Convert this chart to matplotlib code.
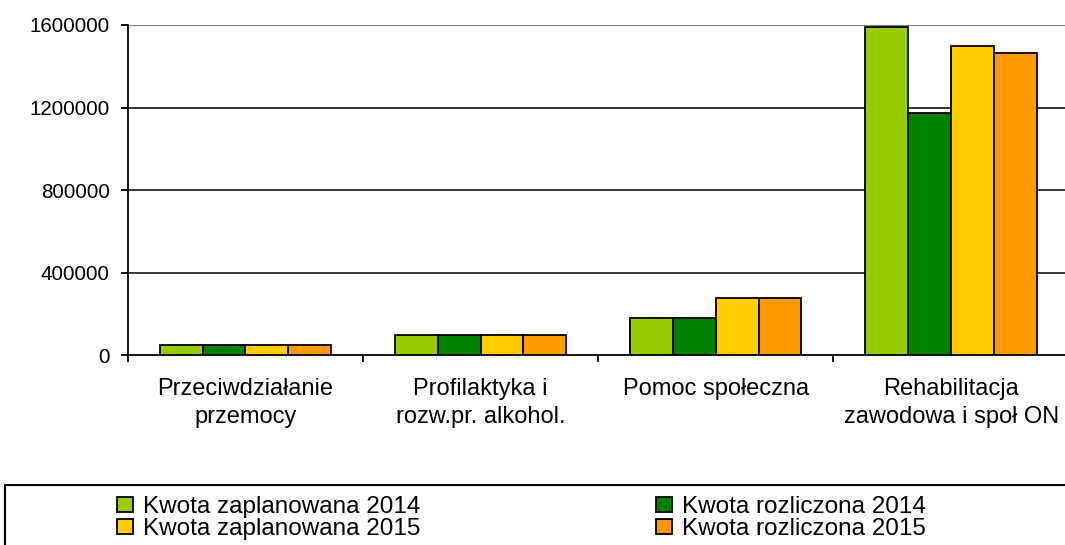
import numpy as np
import matplotlib
matplotlib.use('Agg')
import matplotlib.pyplot as plt
from matplotlib.patches import Rectangle, Patch

plt.rcParams['font.family'] = ['Liberation Sans', 'DejaVu Sans']

categories = ['Przeciwdziałanie\nprzemocy', 'Profilaktyka i\nrozw.pr. alkohol.',
              'Pomoc społeczna', 'Rehabilitacja\nzawodowa i społ ON']
series_names = ['Kwota zaplanowana 2014', 'Kwota rozliczona 2014',
                'Kwota zaplanowana 2015', 'Kwota rozliczona 2015']
zaplanowana_2014 = [50000, 100000, 180000, 1590000]
rozliczona_2014 = [50000, 100000, 180000, 1173000]
zaplanowana_2015 = [50000, 100000, 279000, 1500000]
rozliczona_2015 = [50000, 100000, 276000, 1466000]
colors = ['#99CC00', '#008000', '#FFCC00', '#FF9900']
yticks = [0, 400000, 800000, 1200000, 1600000]

series = [zaplanowana_2014, rozliczona_2014, zaplanowana_2015, rozliczona_2015]

fig = plt.figure(figsize=(10.65, 5.45), dpi=100)
ax = fig.add_axes([127.7 / 1065, 1 - 355.3 / 545, 941 / 1065, 330.3 / 545])

x = np.arange(len(categories))
w = 0.182
for i, (vals, c) in enumerate(zip(series, colors)):
    ax.bar(x + (i - 1.5) * w, vals, width=w, color=c, edgecolor='black',
           linewidth=1.3, zorder=3)

ax.set_xlim(-0.5, len(categories) - 0.5)
ax.set_ylim(0, 1600000)
ax.set_yticks(yticks)
ax.set_yticklabels([str(v) for v in yticks], fontsize=14.8)
for v in yticks[1:-1]:
    ax.axhline(v, color='black', linewidth=1.1, zorder=1)
ax.axhline(yticks[-1], color='#808080', linewidth=1.6, zorder=1)

ax.set_xticks(np.arange(len(categories) + 1) - 0.5)
ax.set_xticklabels([])
ax.set_xticks(x, minor=True)
ax.set_xticklabels(categories, minor=True, fontsize=17, linespacing=1.38)
ax.tick_params(axis='x', which='minor', length=0, pad=16)
ax.tick_params(axis='x', which='major', length=5, width=1.3, direction='out')
ax.tick_params(axis='y', length=5, width=1.3, pad=8)

for s in ['top', 'right']:
    ax.spines[s].set_visible(False)
ax.spines['left'].set_linewidth(1.3)
ax.spines['bottom'].set_linewidth(1.3)

# legend box
fig.patches.append(Rectangle((5 / 1065, -0.05), 1.2, (545 - 485) / 545 + 0.05,
                             transform=fig.transFigure, facecolor='none',
                             edgecolor='black', linewidth=1.5))
handles = [Patch(facecolor=c, edgecolor='black', linewidth=1.3, label=n)
           for c, n in zip(colors, series_names)]
order = [0, 2, 1, 3]
fig.legend([handles[i] for i in order], [series_names[i] for i in order],
           ncol=2, loc='upper left', bbox_to_anchor=(117 / 1065, 1 - 496 / 545),
           frameon=False, fontsize=17.5, handlelength=0.66, handleheight=0.58,
           handletextpad=0.4, labelspacing=0.01, columnspacing=9.7,
           borderpad=0, borderaxespad=0)

fig.savefig('out.png', dpi=100)
